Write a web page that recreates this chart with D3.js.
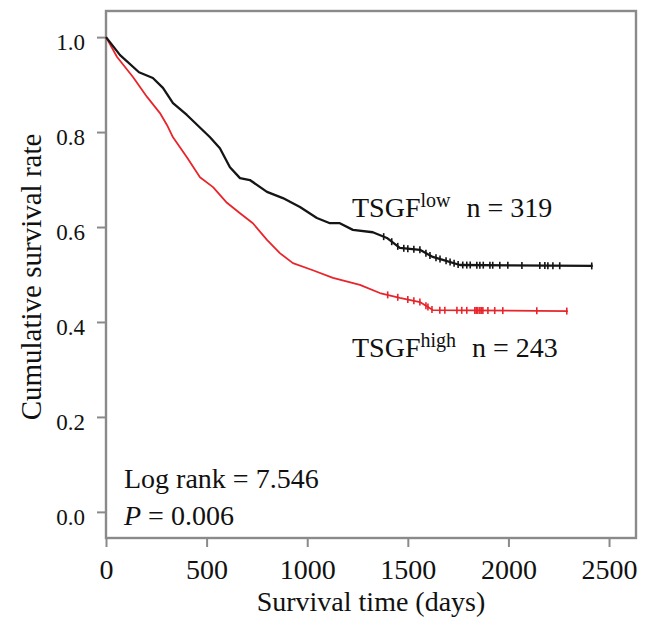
<!DOCTYPE html>
<html>
<head>
<meta charset="utf-8">
<script src="https://cdn.jsdelivr.net/npm/d3@7"></script>
<style>
  body { margin: 0; background: #fff; }
  svg text { font-family: "Liberation Serif", "Times New Roman", serif; fill: #111; }
</style>
</head>
<body>
<svg id="chart" width="645" height="619"></svg>
<script>
// traced Kaplan-Meier curves (days, cumulative survival)
var lowDays = [0, 70, 164, 233, 283, 333, 402, 517, 566, 616, 666, 715, 800, 879, 964, 1048, 1113, 1162, 1227, 1326, 1396, 1460, 1560, 1624, 1674, 1759, 2419];
var lowSurv = [1.0, 0.962, 0.926, 0.914, 0.893, 0.861, 0.836, 0.789, 0.766, 0.726, 0.703, 0.699, 0.674, 0.661, 0.642, 0.619, 0.608, 0.608, 0.594, 0.589, 0.577, 0.556, 0.552, 0.537, 0.531, 0.520, 0.518];
var highDays = [0, 55, 134, 204, 268, 303, 333, 402, 467, 532, 601, 666, 730, 800, 864, 929, 1028, 1128, 1262, 1361, 1460, 1560, 1624, 2295];
var highSurv = [1.0, 0.958, 0.916, 0.874, 0.840, 0.815, 0.789, 0.747, 0.705, 0.684, 0.651, 0.629, 0.608, 0.573, 0.545, 0.524, 0.509, 0.493, 0.478, 0.461, 0.451, 0.442, 0.425, 0.423];
var lowCensor = [1380, 1420, 1450, 1480, 1500, 1530, 1560, 1590, 1610, 1640, 1660, 1690, 1710, 1730, 1750, 1773, 1793, 1810, 1843, 1858, 1875, 1908, 1922, 1957, 1997, 2067, 2156, 2181, 2196, 2221, 2255, 2414];
var highCensor = [1400, 1450, 1500, 1530, 1560, 1590, 1600, 1620, 1659, 1684, 1744, 1768, 1793, 1833, 1840, 1848, 1858, 1865, 1873, 1898, 1932, 1972, 2141, 2290];
var xTicks = [0, 500, 1000, 1500, 2000, 2500];
var yTicks = [0.0, 0.2, 0.4, 0.6, 0.8, 1.0];

var svg = d3.select("#chart");

var x = d3.scaleLinear().domain([0, 2634]).range([106, 636]);
var y = d3.scaleLinear().domain([-0.055, 1.055]).range([538, 11]);

function km_pairs(days, surv) {
    return days.map(function(d, i) { return [d, surv[i]]; });
}

// position of a censor mark on the drawn line
function km_valueAt(days, surv, d) {
    for (var i = 1; i < days.length; i++) {
        if (d <= days[i]) {
            var t = (d - days[i - 1]) / (days[i] - days[i - 1]);
            return surv[i - 1] + t * (surv[i] - surv[i - 1]);
        }
    }
    return surv[surv.length - 1];
}

function km_drawAxes() {
    var gy = svg.append("g")
        .attr("transform", "translate(" + x.range()[0] + ",0)")
        .call(d3.axisLeft(y).tickValues(yTicks).tickSize(9).tickPadding(12)
            .tickFormat(d3.format(".1f")));
    gy.attr("font-size", 23).attr("font-family", "Liberation Serif");
    gy.select(".domain").remove();
    gy.selectAll("line").attr("stroke", "#8a8a8a").attr("stroke-width", 2);
    gy.selectAll("text").attr("dy", "0.55em").attr("fill", "#111");

    var gx = svg.append("g")
        .attr("transform", "translate(0," + y.range()[0] + ")")
        .call(d3.axisBottom(x).tickValues(xTicks).tickSize(9).tickPadding(12)
            .tickFormat(d3.format("d")));
    gx.attr("font-size", 28).attr("font-family", "Liberation Serif");
    gx.select(".domain").remove();
    gx.selectAll("line").attr("stroke", "#8a8a8a").attr("stroke-width", 2);
    gx.selectAll("text").attr("fill", "#111");

    svg.append("rect")
        .attr("x", x.range()[0]).attr("y", y.range()[1])
        .attr("width", x.range()[1] - x.range()[0])
        .attr("height", y.range()[0] - y.range()[1])
        .attr("fill", "none")
        .attr("stroke", "#8a8a8a")
        .attr("stroke-width", 2.4);
}

function km_drawCurve(days, surv, censor, color, width) {
    var line = d3.line()
        .x(function(d) { return x(d[0]); })
        .y(function(d) { return y(d[1]); });
    svg.append("path")
        .datum(km_pairs(days, surv))
        .attr("fill", "none")
        .attr("stroke", color)
        .attr("stroke-width", width)
        .attr("stroke-linejoin", "round")
        .attr("d", line);
    svg.append("g").selectAll("line")
        .data(censor)
        .enter().append("line")
        .attr("x1", function(d) { return x(d); })
        .attr("x2", function(d) { return x(d); })
        .attr("y1", function(d) { return y(km_valueAt(days, surv, d)) - 3.5; })
        .attr("y2", function(d) { return y(km_valueAt(days, surv, d)) + 3.5; })
        .attr("stroke", color)
        .attr("stroke-width", 1.6);
}

function km_drawLabels() {
    svg.append("text")
        .attr("transform", "translate(41," + 277 + ") rotate(-90)")
        .attr("text-anchor", "middle")
        .attr("font-size", 29)
        .text("Cumulative survival rate");
    svg.append("text")
        .attr("x", (x.range()[0] + x.range()[1]) / 2)
        .attr("y", 611)
        .attr("text-anchor", "middle")
        .attr("font-size", 28)
        .text("Survival time (days)");

    var groups = [
        {name: "TSGF", sup: "low", n: "n = 319", y: 217},
        {name: "TSGF", sup: "high", n: "n = 243", y: 357},
    ];
    groups.forEach(function(g) {
        var t = svg.append("text")
            .attr("x", 352).attr("y", g.y)
            .attr("font-size", 28);
        t.append("tspan").text(g.name);
        t.append("tspan").attr("font-size", 20).attr("dy", -10).text(g.sup);
        t.append("tspan").attr("dy", 10).attr("dx", 16).text(g.n);
    });

    svg.append("text")
        .attr("x", 124).attr("y", 488)
        .attr("font-size", 28)
        .text("Log rank = 7.546");
    var p = svg.append("text")
        .attr("x", 124).attr("y", 525)
        .attr("font-size", 28);
    p.append("tspan").attr("font-style", "italic").text("P");
    p.append("tspan").text(" = 0.006");
}

km_drawAxes();
km_drawCurve(highDays, highSurv, highCensor, "#e8252b", 1.8);
km_drawCurve(lowDays, lowSurv, lowCensor, "#151515", 2.3);
km_drawLabels();
</script>
</body>
</html>
